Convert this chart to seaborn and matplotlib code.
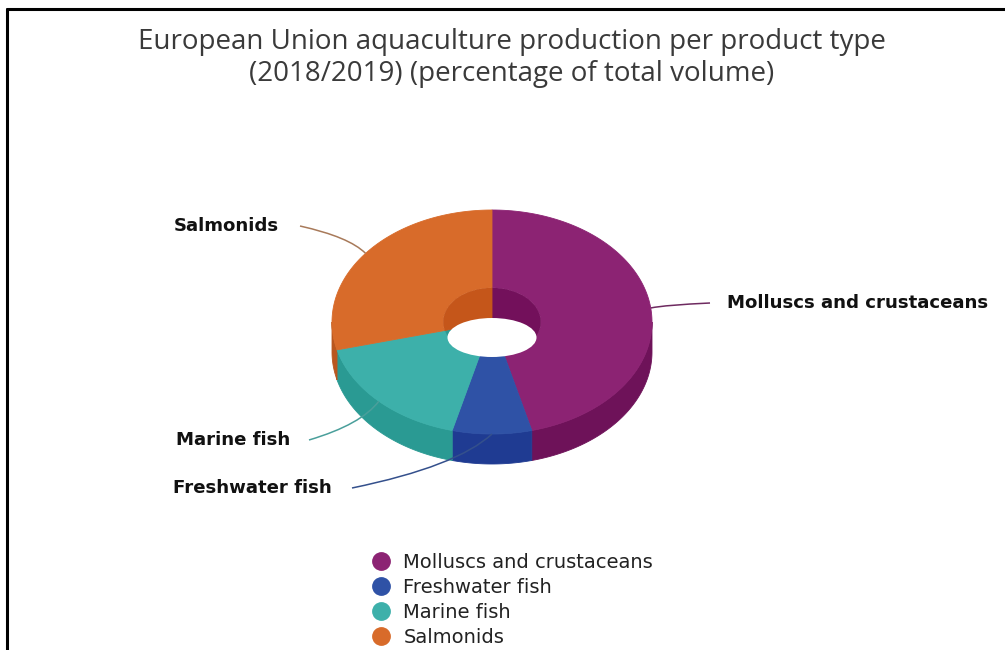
import numpy as np
import matplotlib
matplotlib.use("Agg")
import matplotlib.pyplot as plt
from matplotlib.patches import Polygon, PathPatch, Ellipse
from matplotlib.path import Path
from matplotlib.lines import Line2D
import seaborn as sns

# ---- data -------------------------------------------------------------
categories = ["Molluscs and crustaceans", "Freshwater fish", "Marine fish", "Salmonids"]
shares = [46, 8, 17, 29]  # percentage of total volume

top_colors = ["#8C2373", "#2F52A6", "#3DB0AA", "#D86B2A"]
side_colors = ["#6E1259", "#1F3B92", "#2A9A93", "#B9571F"]
inner_colors = ["#73105B", "#1F3B92", "#2A9A93", "#C5561A"]
connector_colors = ["#6E2A60", "#34508C", "#4A9F9B", "#A87A5A"]

title = "European Union aquaculture production per product type\n(2018/2019) (percentage of total volume)"

# ---- layout (pixel space) ----------------------------------------------
W, H = 1005, 650
CX, CY = 492, 322          # centre of the top face
RX, RY = 160, 112          # outer radii of the top face
INNER = 0.305              # hole size relative to outer radius
DEPTH = 30                 # thickness of the ring
# visible bottom opening of the hole: (centre y, half width, half height)
HOLE_BOTTOM = (337.5, 44.5, 19.5)

# label anchor points: (text x, text y, connector start x)
label_layout = {
    "Molluscs and crustaceans": (727, 303, 710),
    "Freshwater fish": (173, 488, 352),
    "Marine fish": (176, 440, 309),
    "Salmonids": (174, 226, 300),
}

sns.set_theme(style="white")
plt.rcParams["font.family"] = ["DejaVu Sans"]

fig = plt.figure(figsize=(W / 100, H / 100), dpi=100)
ax = fig.add_axes([0, 0, 1, 1])
ax.set_xlim(0, W)
ax.set_ylim(H, 0)
ax.axis("off")


def ring_point(theta_deg, r=1.0, z=0.0):
    """Project a point of the tilted ring; theta measured clockwise from 12 o'clock."""
    t = np.radians(theta_deg)
    return CX + RX * r * np.sin(t), CY - RY * r * np.cos(t) + DEPTH * z


def arc(t0, t1, r=1.0, z=0.0, n=120):
    ts = np.linspace(t0, t1, n)
    xs, ys = ring_point(ts, r, z)
    return np.column_stack([xs, ys])


# slice angles from the data
vals = np.array(shares, dtype=float)
bounds = np.concatenate([[0], np.cumsum(vals) / vals.sum() * 360])
spans = list(zip(bounds[:-1], bounds[1:]))

# outer side walls (front half only)
for (t0, t1), c in zip(spans, side_colors):
    a, b = max(t0, 90), min(t1, 270)
    if a >= b:
        continue
    poly = np.vstack([arc(a, b, 1, 0), arc(b, a, 1, 1)])
    ax.add_patch(Polygon(poly, closed=True, facecolor=c, edgecolor=c, lw=0.6, zorder=2))

# top faces
for (t0, t1), c in zip(spans, top_colors):
    poly = np.vstack([arc(t0, t1, 1, 0), arc(t1, t0, INNER, 0)])
    ax.add_patch(Polygon(poly, closed=True, facecolor=c, edgecolor=c, lw=0.6, zorder=3))

# inner wall of the hole, shaded per slice, then the see-through bottom opening
hole = Ellipse((CX, CY), 2 * RX * INNER, 2 * RY * INNER, transform=ax.transData,
               facecolor="none", edgecolor="none")
ax.add_patch(hole)
for (t0, t1), c in zip(spans, inner_colors):
    poly = np.vstack([[CX, CY], arc(t0, t1, INNER, 0)])
    p = Polygon(poly, closed=True, facecolor=c, edgecolor=c, lw=0.6, zorder=4)
    ax.add_patch(p)
    p.set_clip_path(hole)
hy, hw, hh = HOLE_BOTTOM
ax.add_patch(Ellipse((CX, hy), 2 * hw, 2 * hh, facecolor="white", edgecolor="none", zorder=4.5))

# data labels with soft connectors
for cat, (t0, t1), c in zip(categories, spans, connector_colors):
    tx, ty, lx = label_layout[cat]
    mid = (t0 + t1) / 2
    px, py = ring_point(mid, 1, 0)
    ly = ty
    cx_ = lx + 0.75 * (px - lx)
    cy_ = ly + 0.4 * (py - ly)
    path = Path([(lx, ly), (cx_, cy_), (px, py)], [Path.MOVETO, Path.CURVE3, Path.CURVE3])
    ax.add_patch(PathPatch(path, facecolor="none", edgecolor=c, lw=1.1, zorder=5))
    ax.text(tx, ty, cat, ha="left", va="center", fontsize=13.1, fontweight="bold",
            color="#111111", zorder=6)

# title
ax.text(512, 58, title, ha="center", va="center", fontsize=20, color="#3a3a3a",
        family=["Open Sans", "DejaVu Sans"], linespacing=1.15)

# legend
handles = [Line2D([0], [0], marker="o", linestyle="none", markersize=12.5,
                  markerfacecolor=c, markeredgecolor=c) for c in top_colors]
leg = ax.legend(handles, categories, loc="upper left",
                bbox_to_anchor=(371 / W, 1 - 553 / H), frameon=False,
                fontsize=14, handletextpad=0.66, labelspacing=0.31,
                borderaxespad=0, handlelength=1.0, borderpad=0)
for t in leg.get_texts():
    t.set_color("#222222")

# frame along the top and left edges
ax.add_line(Line2D([7, W], [8.5, 8.5], color="black", lw=2.2, zorder=10))
ax.add_line(Line2D([7, 7], [8.5, H], color="black", lw=2.2, zorder=10))

fig.savefig("out.png", dpi=100, facecolor="white")
